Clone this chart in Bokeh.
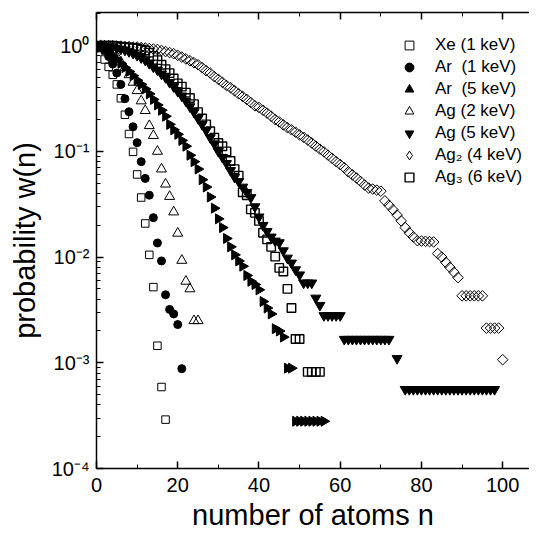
import numpy as np
from bokeh.plotting import figure
from bokeh.models import (LinearAxis, Range1d, CustomJSTickFormatter, FixedTicker,
                          Legend, LegendItem, ColumnDataSource)
from bokeh.embed import file_html
from bokeh.resources import INLINE

# ---------------- data ----------------
xe_n = list(range(1, 18))
xe_w = [0.95, 0.74, 0.63, 0.53, 0.43, 0.318, 0.222, 0.146, 0.099, 0.0605,
        0.0366, 0.0208, 0.0105, 0.0052, 0.00145, 0.00059, 0.00029]

ar1_n = list(range(1, 22))
ar1_w = [0.98, 0.90, 0.79, 0.67, 0.55, 0.43, 0.315, 0.237, 0.171, 0.121,
         0.080, 0.0555, 0.0385, 0.0236, 0.0136, 0.0092, 0.0044, 0.0032, 0.0029, 0.0023,
         0.00088]

ar5_n = list(range(1, 57))
ar5_w = [0.97, 0.92, 0.86, 0.80, 0.74, 0.68, 0.62, 0.57, 0.52, 0.47,
         0.43, 0.39, 0.35, 0.31, 0.275, 0.245, 0.215, 0.18, 0.16, 0.145,
         0.127, 0.112, 0.092, 0.08, 0.068, 0.054, 0.046, 0.037, 0.029, 0.023,
         0.019, 0.015, 0.0125, 0.0105, 0.0092, 0.0082, 0.0067, 0.0059, 0.0055, 0.0049,
         0.0038, 0.0033, 0.0029, 0.0021, 0.0020, 0.00175, 0.00089, 0.00089, 0.00028, 0.00028,
         0.00028, 0.00028, 0.00028, 0.00028, 0.00028, 0.00028]

ag2k_n = list(range(1, 26))
ag2k_w = [1.0, 0.97, 0.92, 0.86, 0.79, 0.70, 0.62, 0.53, 0.45, 0.375,
          0.30, 0.243, 0.175, 0.141, 0.100, 0.068, 0.049, 0.0374, 0.0267, 0.0168,
          0.0093, 0.0059, 0.0050, 0.0025, 0.0025]

ag5_n = list(range(1, 73)) + [74] + list(range(76, 99))
ag5_w = [1.0, 0.99, 0.98, 0.97, 0.95, 0.93, 0.91, 0.88, 0.85, 0.81,
         0.77, 0.73, 0.68, 0.63, 0.59, 0.54, 0.50, 0.45, 0.41, 0.37,
         0.335, 0.30, 0.265, 0.235, 0.205, 0.18, 0.158, 0.135, 0.118, 0.10,
         0.088, 0.077, 0.066, 0.057, 0.052, 0.046, 0.041, 0.0366, 0.030, 0.024,
         0.020, 0.0175, 0.0155, 0.0142, 0.0137, 0.0115, 0.0098, 0.0088, 0.0076, 0.0068,
         0.0057, 0.0057, 0.0057, 0.0041, 0.0035, 0.0028, 0.0028, 0.0028, 0.0028, 0.0028,
         0.00167, 0.00167, 0.00167, 0.00167, 0.00167, 0.00167, 0.00167, 0.00167, 0.00167, 0.00167,
         0.00167, 0.00167,
         0.0011,
         0.00056, 0.00056, 0.00056, 0.00056, 0.00056, 0.00056, 0.00056, 0.00056, 0.00056, 0.00056,
         0.00056, 0.00056, 0.00056, 0.00056, 0.00056, 0.00056, 0.00056, 0.00056, 0.00056, 0.00056,
         0.00056, 0.00056, 0.00056]

agd_n = list(range(1, 101))
agd_w = [1.0, 1.0, 1.0, 1.0, 0.99, 0.99, 0.98, 0.98, 0.97, 0.97,
         0.96, 0.95, 0.94, 0.93, 0.92, 0.90, 0.88, 0.86, 0.84, 0.81,
         0.78, 0.75, 0.72, 0.69, 0.66, 0.62, 0.58, 0.55, 0.51, 0.48,
         0.45, 0.42, 0.40, 0.375, 0.35, 0.33, 0.31, 0.29, 0.27, 0.26,
         0.245, 0.23, 0.215, 0.20, 0.19, 0.178, 0.168, 0.16, 0.152, 0.143,
         0.136, 0.128, 0.12, 0.112, 0.105, 0.099, 0.092, 0.086, 0.080, 0.075,
         0.07, 0.064, 0.060, 0.056, 0.052, 0.048, 0.045, 0.044, 0.043, 0.042,
         0.034, 0.031, 0.028, 0.025, 0.022, 0.019, 0.017, 0.0155, 0.0143, 0.0142,
         0.0141, 0.014, 0.0139, 0.0108, 0.0100, 0.0089, 0.0080, 0.0072, 0.0064, 0.0043,
         0.0043, 0.0043, 0.0043, 0.0043, 0.0043, 0.00213, 0.00213, 0.00213, 0.00213, 0.00107]

agt_n = list(range(1, 51)) + [52, 53, 54, 55]
agt_w = [1.0, 1.0, 1.0, 1.0, 0.99, 0.98, 0.97, 0.96, 0.95, 0.94,
         0.92, 0.90, 0.86, 0.80, 0.73, 0.66, 0.60, 0.55, 0.49, 0.44,
         0.41, 0.36, 0.32, 0.28, 0.235, 0.205, 0.18, 0.155, 0.135, 0.12,
         0.112, 0.10, 0.081, 0.068, 0.059, 0.041, 0.0385, 0.0283, 0.0262, 0.022,
         0.017, 0.0147, 0.0125, 0.0101, 0.0079, 0.0073, 0.005, 0.0033, 0.00168, 0.00168,
         0.00082, 0.00082, 0.00082, 0.00082]

labels = ["Xe (1 keV)", "Ar  (1 keV)", "Ar  (5 keV)", "Ag (2 keV)",
          "Ag (5 keV)", "Ag\u2082 (4 keV)", "Ag\u2083 (6 keV)"]

x_ticks = [0, 20, 40, 60, 80, 100]
x_minor = [10, 30, 50, 70, 90, 110]
y_ticks = [1e-4, 1e-3, 1e-2, 1e-1, 1.0]

FONT = "Liberation Sans"

p = figure(width=529, height=533, x_range=Range1d(0, 106.6), y_range=Range1d(1e-4, 2.06),
           y_axis_type="log", output_backend="svg", toolbar_location=None,
           min_border_left=96, min_border_right=0, min_border_top=12, min_border_bottom=60)
p.grid.visible = False
p.outline_line_color = None
p.background_fill_color = "white"
p.border_fill_color = "white"

open_kw = dict(fill_alpha=0, line_color="black")
r_agd = p.scatter(agd_n, agd_w, marker="square", angle=np.pi / 4,
                  size=7.5, line_width=1, **open_kw)
r_agt = p.scatter(agt_n, agt_w, marker="square", size=8.5, line_width=1.4, **open_kw)
r_ag5 = p.scatter(ag5_n, ag5_w, marker="inverted_triangle", size=10, color="black")
r_ar5 = p.scatter(ar5_n, ar5_w, marker="triangle", angle=-np.pi / 2, size=10, color="black")
r_ag2 = p.scatter(ag2k_n, ag2k_w, marker="triangle", size=10, line_width=1, **open_kw)
r_ar1 = p.scatter(ar1_n, ar1_w, marker="circle", size=8, color="black")
r_xe = p.scatter(xe_n, xe_w, marker="square", size=7.5, line_width=1, **open_kw)

# legend key for the diamond series: same data, drawn invisibly in the plot
# (a selection makes the plot use the invisible selection/nonselection glyphs,
#  while the legend uses the main diamond glyph)
key_src = ColumnDataSource(dict(n=agd_n, w=agd_w))
key_src.selected.indices = [0]
key_agd = p.scatter(x="n", y="w", source=key_src, marker="diamond", size=10, line_width=1,
                    fill_alpha=0, line_color="black",
                    selection_line_alpha=0, selection_fill_alpha=0,
                    nonselection_line_alpha=0, nonselection_fill_alpha=0)

legend = Legend(items=[LegendItem(label=labels[0], renderers=[r_xe]),
                       LegendItem(label=labels[1], renderers=[r_ar1]),
                       LegendItem(label=labels[2], renderers=[r_ar5]),
                       LegendItem(label=labels[3], renderers=[r_ag2]),
                       LegendItem(label=labels[4], renderers=[r_ag5]),
                       LegendItem(label=labels[5], renderers=[key_agd]),
                       LegendItem(label=labels[6], renderers=[r_agt])],
                location=(301, 280), border_line_color=None, background_fill_alpha=0,
                label_text_font=FONT, label_text_font_size="17px", label_text_color="black",
                glyph_width=24, glyph_height=22, label_standoff=14, spacing=0,
                label_height=22, padding=0, margin=0)
p.add_layout(legend)

# axes styling
def style_axis(ax):
    ax.axis_line_width = 1.5
    ax.axis_line_color = "black"
    ax.major_tick_line_width = 1.5
    ax.minor_tick_line_width = 1
    ax.major_tick_line_color = "black"
    ax.minor_tick_line_color = "black"
    ax.major_tick_in = 7
    ax.major_tick_out = 0
    ax.minor_tick_in = 4
    ax.minor_tick_out = 0
    ax.major_label_text_font = FONT
    ax.major_label_text_font_size = "20px"
    ax.major_label_text_color = "black"
    ax.axis_label_text_font = FONT
    ax.axis_label_text_font_size = "29px"
    ax.axis_label_text_font_style = "normal"
    ax.axis_label_text_color = "black"

xa = p.xaxis[0]
xa.ticker = FixedTicker(ticks=x_ticks, minor_ticks=x_minor)
style_axis(xa)
xa.axis_label = "number of atoms n"
xa.major_label_standoff = 9
xa.axis_label_standoff = 4

ya = p.yaxis[0]
ya.ticker = FixedTicker(ticks=y_ticks,
                        minor_ticks=[m * t for t in y_ticks[:-1] for m in range(2, 10)] + [2.0])
ya.formatter = CustomJSTickFormatter(code="""
const e = Math.round(Math.log10(tick));
const sup = {'-':'\u207b','0':'\u2070','1':'\u00b9','2':'\u00b2','3':'\u00b3','4':'\u2074'};
return '10' + String(e).split('').map(c => sup[c]).join('');
""")
style_axis(ya)
ya.axis_label = "probability w(n)"
ya.major_label_standoff = 7
ya.axis_label_standoff = 8

top = LinearAxis(ticker=FixedTicker(ticks=x_ticks, minor_ticks=x_minor),
                 formatter=CustomJSTickFormatter(code="return ''"))
style_axis(top)
top.major_label_standoff = 0
top.major_label_text_font_size = "0px"
p.add_layout(top, "above")

open("out.html", "w").write(file_html(p, INLINE))
